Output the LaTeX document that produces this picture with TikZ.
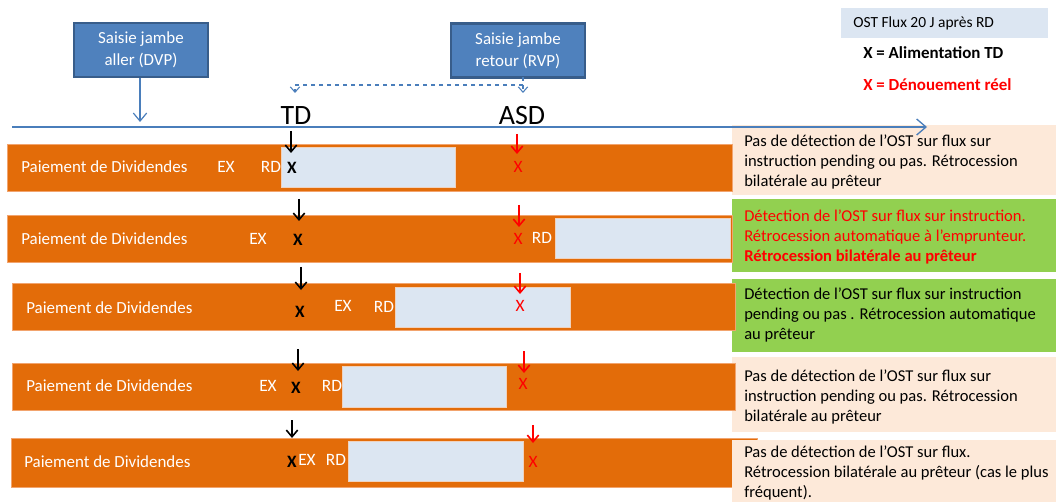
\documentclass[tikz,border=0pt]{standalone}
\usepackage{fontspec}
\setmainfont{Carlito}
\usetikzlibrary{arrows.meta}
\definecolor{orangebar}{HTML}{E36C09}
\definecolor{orangeedge}{HTML}{F2A46E}
\definecolor{lightblue}{HTML}{DCE6F2}
\definecolor{slotedge}{HTML}{EFD2BE}
\definecolor{peach}{HTML}{FDE9D9}
\definecolor{greenbox}{HTML}{92D050}
\definecolor{bluebox}{HTML}{4F81BD}
\definecolor{blueedge}{HTML}{385D8A}
\definecolor{axisblue}{HTML}{4A7EBB}
\definecolor{redx}{HTML}{FF0000}
\begin{document}
\begin{tikzpicture}[x=0.75pt,y=-0.75pt,
  bar/.style={fill=orangebar,draw=orangeedge,line width=0.6pt},
  slot/.style={fill=lightblue,draw=slotedge,line width=0.6pt},
  notebox/.style={draw=none},
  notetext/.style={anchor=west,align=left,inner sep=0pt,font=\fontsize{12.4}{15}\selectfont},
  bartext/.style={anchor=west,inner sep=0pt,text=white,font=\fontsize{12.7}{15}\selectfont},
  daylbl/.style={inner sep=0pt,text=white,font=\fontsize{13}{15}\selectfont},
  xblack/.style={inner sep=0pt,font=\bfseries\fontsize{13}{15}\selectfont},
  xred/.style={inner sep=0pt,text=redx,font=\fontsize{13}{15}\selectfont},
  markblack/.style={line width=1.2pt,-{Straight Barb[length=5pt,width=8.5pt]}},
  markred/.style={line width=1.2pt,draw=redx,-{Straight Barb[length=5pt,width=8.5pt]}},
  saisie/.style={fill=bluebox,draw=blueedge,line width=1.6pt,text=white,align=center,
    minimum width=100.5pt,minimum height=40.5pt,inner sep=0pt,
    font=\fontsize{12.7}{16.5}\selectfont},
  bigdate/.style={inner sep=0pt,font=\fontsize{21}{24}\selectfont},
  bluearrow/.style={draw=axisblue,line width=0.9pt,-{Straight Barb[length=6pt,width=10pt]}},
  dasharrow/.style={draw=axisblue,line width=0.8pt,dashed,-{Straight Barb[length=4pt,width=7pt]}}
]
\useasboundingbox (0,0) rectangle (1056,502);

% ---------- right-hand notes ----------
\path[notebox,fill=peach] (732,125) rectangle (1056,195);
\path[notebox,fill=greenbox] (732,199) rectangle (1056,272);
\path[notebox,fill=greenbox] (732,279) rectangle (1056,352);
\path[notebox,fill=peach] (732,357) rectangle (1056,432);

% ---------- bars ----------
\path[bar] (7,144) rectangle (732,191);
\path[bar] (7,215) rectangle (732,262);
\path[bar] (12,283) rectangle (735,330);
\path[bar] (12,363) rectangle (735,410);
\path[bar] (11,438) rectangle (757,487);
\path[notebox,fill=peach] (732,440) rectangle (1056,502);

% ---------- slots ----------
\path[slot] (281,147) rectangle (455,187);
\path[slot] (555,218) rectangle (730,258);
\path[slot] (395,287) rectangle (570,327);
\path[slot] (342,366) rectangle (506,407);
\path[slot] (348,441) rectangle (523,481);

% ---------- note texts ----------
\node[notetext] (n1) at (744,162) {Pas de détection de l’OST sur flux sur\\instruction pending ou pas. Rétrocession\\bilatérale au prêteur};
\node[notetext,text=redx] (n2) at (744,237) {Détection de l’OST sur flux sur instruction.\\Rétrocession automatique à l’emprunteur.\\\textbf{Rétrocession bilatérale au prêteur}};
\node[notetext] (n3) at (744,315) {Détection de l’OST sur flux sur instruction\\pending ou pas . Rétrocession automatique\\au prêteur};
\node[notetext] (n4) at (744,397) {Pas de détection de l’OST sur flux sur\\instruction pending ou pas. Rétrocession\\bilatérale au prêteur};
\node[notetext] (n5) at (744,473) {Pas de détection de l’OST sur flux.\\Rétrocession bilatérale au prêteur (cas le plus\\fréquent).};

% ---------- legend ----------
\path[fill=lightblue] (841,8) rectangle (1048,38);
\node[anchor=west,inner sep=0pt,font=\fontsize{11.6}{14}\selectfont] (leg0) at (853,23) {OST Flux 20 J après RD};
\node[anchor=west,inner sep=0pt,font=\bfseries\fontsize{12.7}{15}\selectfont] (leg1) at (863,53) {X = Alimentation TD};
\node[anchor=west,inner sep=0pt,text=redx,font=\bfseries\fontsize{12.7}{15}\selectfont] (leg2) at (863,85) {X = Dénouement réel};

% ---------- top boxes and axis ----------
\node[saisie] (dvp) at (141,50) {Saisie jambe\\aller (DVP)};
\node[saisie] (rvp) at (518,50.5) {Saisie jambe\\retour (RVP)};
\node[bigdate] (td) at (296,116) {TD};
\node[bigdate] (asd) at (522,116) {ASD};

\coordinate (axs) at (12,127);
\coordinate (axe) at (927,127);
\draw[draw=axisblue,line width=1pt,-{Straight Barb[length=7pt,width=12pt]}] (axs) -- (axe);

\coordinate (dvpend) at (140,122);
\draw[bluearrow] (dvp.south -| dvpend) -- (dvpend);

\coordinate (rvpout) at (523,77);
\coordinate (rvpend) at (523,93);
\coordinate (tdend) at (295,93);
\draw[dasharrow] (rvpout) -- (rvpend);
\draw[dasharrow] (523,85) -| (tdend);

% ---------- row 1 ----------
\node[bartext] (p1) at (21,167) {Paiement de Dividendes};
\node[daylbl] (ex1) at (226,167) {EX};
\node[daylbl] (rd1) at (271,167) {RD};
\node[xblack] (xb1) at (292,168) {X};
\node[xred] (xr1) at (518,167) {X};
\coordinate (b1s) at (291,131); \coordinate (b1e) at (291,153);
\draw[markblack] (b1s) -- (b1e);
\coordinate (r1s) at (517,134); \coordinate (r1e) at (517,154);
\draw[markred] (r1s) -- (r1e);

% ---------- row 2 ----------
\node[bartext] (p2) at (21,239) {Paiement de Dividendes};
\node[daylbl] (ex2) at (258,239) {EX};
\node[xblack] (xb2) at (298,240) {X};
\node[xred] (xr2) at (518,239) {X};
\node[daylbl] (rd2) at (542,238) {RD};
\coordinate (b2s) at (299,199); \coordinate (b2e) at (299,221);
\draw[markblack] (b2s) -- (b2e);
\coordinate (r2s) at (519,205); \coordinate (r2e) at (519,227);
\draw[markred] (r2s) -- (r2e);

% ---------- row 3 ----------
\node[bartext] (p3) at (26,308) {Paiement de Dividendes};
\node[xblack] (xb3) at (300,312) {X};
\node[daylbl] (ex3) at (343,306) {EX};
\node[daylbl] (rd3) at (384,307) {RD};
\node[xred] (xr3) at (520,306) {X};
\coordinate (b3s) at (301,267); \coordinate (b3e) at (301,290);
\draw[markblack] (b3s) -- (b3e);
\coordinate (r3s) at (520,273); \coordinate (r3e) at (520,294);
\draw[markred] (r3s) -- (r3e);

% ---------- row 4 ----------
\node[bartext] (p4) at (26,386) {Paiement de Dividendes};
\node[daylbl] (ex4) at (268,386) {EX};
\node[xblack] (xb4) at (296,388) {X};
\node[daylbl] (rd4) at (332,386) {RD};
\node[xred] (xr4) at (523,384) {X};
\coordinate (b4s) at (298,349); \coordinate (b4e) at (298,371);
\draw[markblack] (b4s) -- (b4e);
\coordinate (r4s) at (524,351); \coordinate (r4e) at (524,373);
\draw[markred] (r4s) -- (r4e);

% ---------- row 5 ----------
\node[bartext] (p5) at (24,462) {Paiement de Dividendes};
\node[xblack] (xb5) at (292,462) {X};
\node[daylbl] (ex5) at (307,460) {EX};
\node[daylbl] (rd5) at (336,460) {RD};
\node[xred] (xr5) at (533,462) {X};
\coordinate (b5s) at (292,420); \coordinate (b5e) at (292,438);
\draw[markblack] (b5s) -- (b5e);
\coordinate (r5s) at (533,425); \coordinate (r5e) at (533,443);
\draw[markred] (r5s) -- (r5e);
\end{tikzpicture}
\end{document}
